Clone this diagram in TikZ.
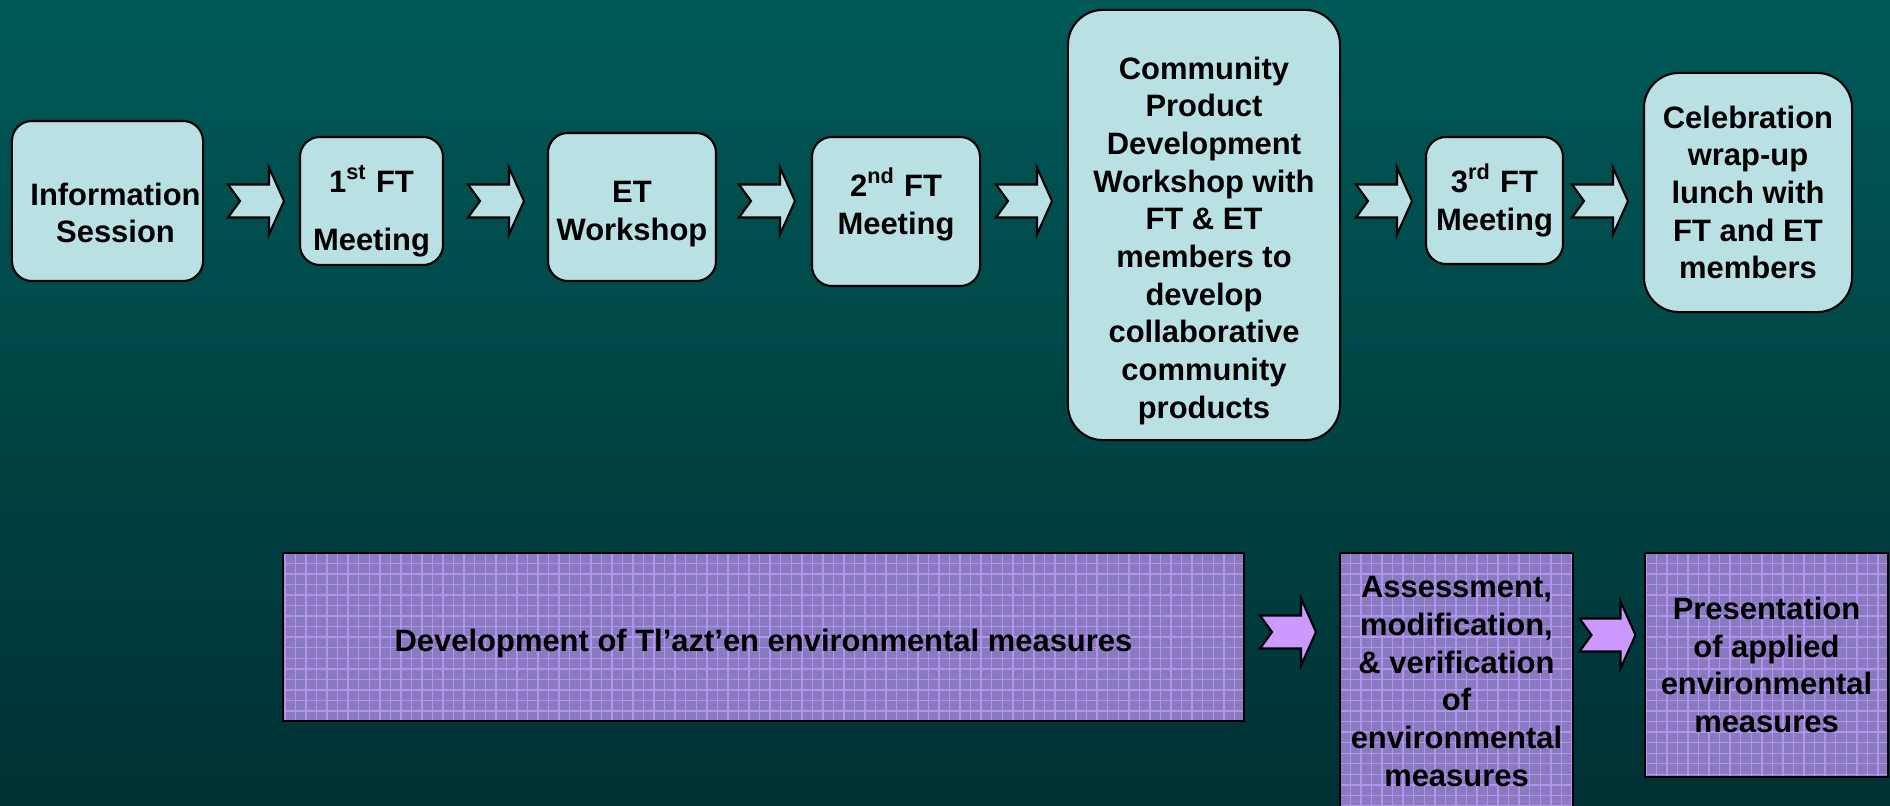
\documentclass[tikz,border=0pt]{standalone}
\usepackage{fontspec}
\setmainfont{Liberation Sans}
\usepackage{tikz}
\usetikzlibrary{patterns}
\definecolor{SeaTop}{RGB}{0,90,88}
\definecolor{SeaBottom}{RGB}{0,48,52}
\definecolor{StepFill}{RGB}{185,224,227}
\definecolor{MeasureFill}{RGB}{138,122,192}
\definecolor{MeasureGrid}{RGB}{180,146,240}
\definecolor{LilacFill}{RGB}{204,153,255}
\tikzstyle{Step}=[draw=black, line width=0.6pt, fill=StepFill, rounded corners=0.2cm, align=center, inner sep=0pt, font=\fontsize{8.8}{10.7}\selectfont\bfseries]
\tikzstyle{BigStep}=[style=Step, rounded corners=0.35cm]
\tikzstyle{Measure}=[preaction={fill=MeasureFill}, preaction={pattern=grid, pattern color=MeasureGrid}, draw=black, line width=0.6pt, align=center, inner sep=0pt, font=\fontsize{8.8}{10.7}\selectfont\bfseries]
\tikzstyle{StepArrow}=[draw=black, line width=0.6pt, fill=StepFill]
\tikzstyle{MeasureArrow}=[draw=black, line width=0.6pt, fill=LilacFill]
\tikzset{Chevron/.pic={\path[pic actions] (-28,-16.5) -- (13,-16.5) -- (13,-33.5) -- (28,0) -- (13,33.5) -- (13,16.5) -- (-28,16.5) -- (-16,0) -- cycle;}}
\pgfdeclarelayer{nodelayer}
\pgfdeclarelayer{edgelayer}
\pgfsetlayers{main, nodelayer, edgelayer}
\begin{document}
\begin{tikzpicture}[x=0.01cm, y=-0.01cm]
	\useasboundingbox (0,0) rectangle (1890,806);
	\shade [top color=SeaTop, bottom color=SeaBottom] (0,0) rectangle (1890,806);
	\begin{pgfonlayer}{nodelayer}
		% meetings and workshops
		\node [style=Step, minimum width=1.91cm, minimum height=1.60cm] (info) at (107.5, 201) {\mbox{}\\[2.4pt]\hspace{0.16cm}Information\\\hspace{0.16cm}Session};
		\node [style=Step, minimum width=1.43cm, minimum height=1.28cm] (meeting1) at (371.5, 201) {\mbox{}\\[2.9pt]1\textsuperscript{st} FT\\[0.2cm]Meeting};
		\node [style=Step, minimum width=1.68cm, minimum height=1.48cm] (etwork) at (632, 207) {\mbox{}\\[-0.5pt]ET\\Workshop};
		\node [style=Step, minimum width=1.68cm, minimum height=1.49cm] (meeting2) at (896, 211.5) {2\textsuperscript{nd} FT\\Meeting\\[-4.6pt]};
		\node [style=BigStep, minimum width=2.72cm, minimum height=4.30cm] (product) at (1204, 225) {\mbox{}\\[4.6pt]Community\\Product\\Development\\Workshop with\\FT \& ET\\members to\\develop\\collaborative\\community\\products};
		\node [style=Step, minimum width=1.37cm, minimum height=1.27cm] (meeting3) at (1494.5, 200.5) {3\textsuperscript{rd} FT\\Meeting};
		\node [style=BigStep, minimum width=2.08cm, minimum height=2.39cm] (lunch) at (1748, 192.5) {Celebration\\wrap-up\\lunch with\\FT and ET\\members};

		% environmental measures
		\node [style=Measure, minimum width=9.61cm, minimum height=1.68cm] (develop) at (763.5, 637) {\mbox{}\\[-0.5pt]Development of Tl’azt’en environmental measures};
		\node [style=Measure, minimum width=2.33cm, minimum height=2.57cm] (assess) at (1456.5, 681.5) {Assessment,\\modification,\\\& verification\\of\\environmental\\measures};
		\node [style=Measure, minimum width=2.43cm, minimum height=2.24cm] (present) at (1766.5, 665) {Presentation\\of applied\\environmental\\measures};
	\end{pgfonlayer}
	\begin{pgfonlayer}{edgelayer}
		\pic [style=StepArrow] at (256, 201) {Chevron};
		\pic [style=StepArrow] at (496, 201) {Chevron};
		\pic [style=StepArrow] at (767, 201) {Chevron};
		\pic [style=StepArrow] at (1024, 201) {Chevron};
		\pic [style=StepArrow] at (1384, 201) {Chevron};
		\pic [style=StepArrow] at (1600, 201) {Chevron};

		\pic [style=MeasureArrow] at (1288, 632) {Chevron};
		\pic [style=MeasureArrow] at (1607.5, 635) {Chevron};
	\end{pgfonlayer}
\end{tikzpicture}
\end{document}
